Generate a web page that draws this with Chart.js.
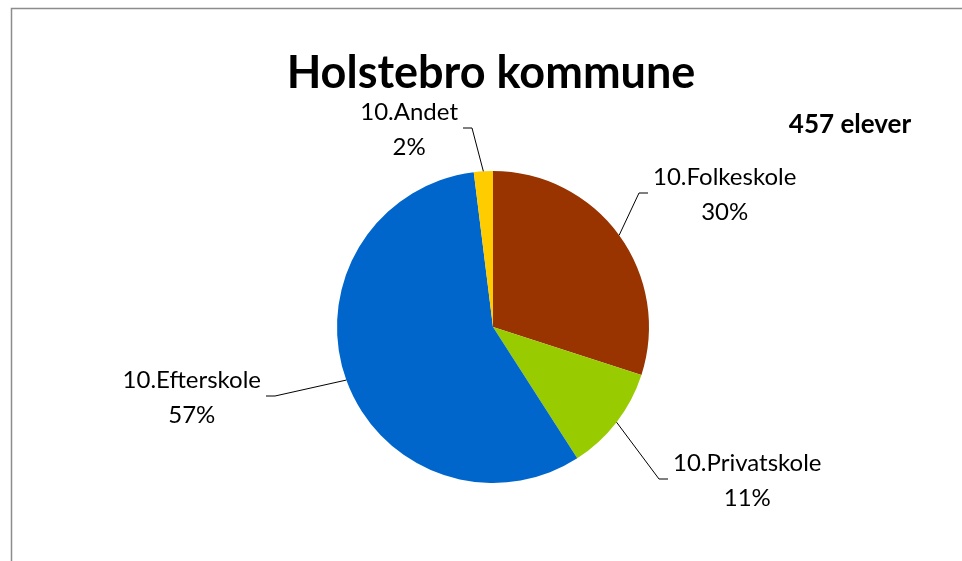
<!DOCTYPE html>
<html>
<head>
<meta charset="utf-8">
<script src="https://cdn.jsdelivr.net/npm/chart.js@4/dist/chart.umd.min.js"></script>
<style>
    html, body { margin: 0; padding: 0; background: #fff; }
    #wrap { width: 962px; height: 561px; }
</style>
</head>
<body>
<div id="wrap"><canvas id="pieChart" width="962" height="561"></canvas></div>
<script>
// Data
const categories = ['10.Folkeskole', '10.Privatskole', '10.Efterskole', '10.Andet'];
const pupils = [137, 50, 261, 9];
const sliceColors = ['#993300', '#99CC00', '#0066CC', '#FFCC00'];
const chartTitle = 'Holstebro kommune';
const totalLabel = '457 elever';

// Label placement (elbow of leader line relative to pie centre, label side)
const labelElbows = [
    { dx: 146, dy: -134, side: 1 },
    { dx: 166, dy: 152, side: 1 },
    { dx: -218, dy: 69, side: -1 },
    { dx: -21, dy: -199, side: -1 }
];

const FONT = "Lato, 'Open Sans', sans-serif";

const labelPlugin = {
    id: 'pieLabels',
    afterDatasetsDraw(chart) {
        const ctx = chart.ctx;
        const meta = chart.getDatasetMeta(0);
        const total = pupils.reduce((a, b) => a + b, 0);

        ctx.save();
        // Frame
        ctx.strokeStyle = '#8c8c8c';
        ctx.lineWidth = 1.5;
        ctx.beginPath();
        ctx.moveTo(11.5, chart.height);
        ctx.lineTo(11.5, 8.5);
        ctx.lineTo(chart.width, 8.5);
        ctx.stroke();

        // Title
        ctx.fillStyle = '#000';
        ctx.textAlign = 'center';
        ctx.textBaseline = 'middle';
        ctx.font = `bold 45px ${FONT}`;
        ctx.fillText(chartTitle, 491, 73);

        ctx.font = `bold 26px ${FONT}`;
        ctx.fillText(totalLabel, 850, 125);

        meta.data.forEach((arc, i) => {
            const mid = (arc.startAngle + arc.endAngle) / 2;
            const ex = arc.x + Math.cos(mid) * arc.outerRadius;
            const ey = arc.y + Math.sin(mid) * arc.outerRadius;
            const el = labelElbows[i];
            const bx = arc.x + el.dx;
            const by = arc.y + el.dy;
            const sx = bx + el.side * 9;

            ctx.strokeStyle = '#000';
            ctx.lineWidth = 1;
            ctx.beginPath();
            ctx.moveTo(ex, ey);
            ctx.lineTo(bx, by);
            ctx.lineTo(sx, by);
            ctx.stroke();

            ctx.font = `24px ${FONT}`;
            const name = categories[i];
            const pct = Math.round(pupils[i] / total * 100) + '%';
            const w = ctx.measureText(name).width;
            const cx = el.side > 0 ? sx + 5 + w / 2 : sx - 5 - w / 2;
            ctx.fillStyle = '#000';
            ctx.textAlign = 'center';
            ctx.fillText(name, cx, by - 16);
            ctx.fillText(pct, cx, by + 19);
        });
        ctx.restore();
    }
};

new Chart(document.getElementById('pieChart'), {
    type: 'pie',
    data: {
        labels: categories,
        datasets: [{
            data: pupils,
            backgroundColor: sliceColors,
            borderWidth: 0
        }]
    },
    options: {
        responsive: false,
        animation: false,
        layout: {
            padding: { top: 171, bottom: 78, left: 337, right: 313 }
        },
        plugins: {
            legend: { display: false },
            tooltip: { enabled: false },
            title: { display: false }
        }
    },
    plugins: [labelPlugin]
});
</script>
</body>
</html>
